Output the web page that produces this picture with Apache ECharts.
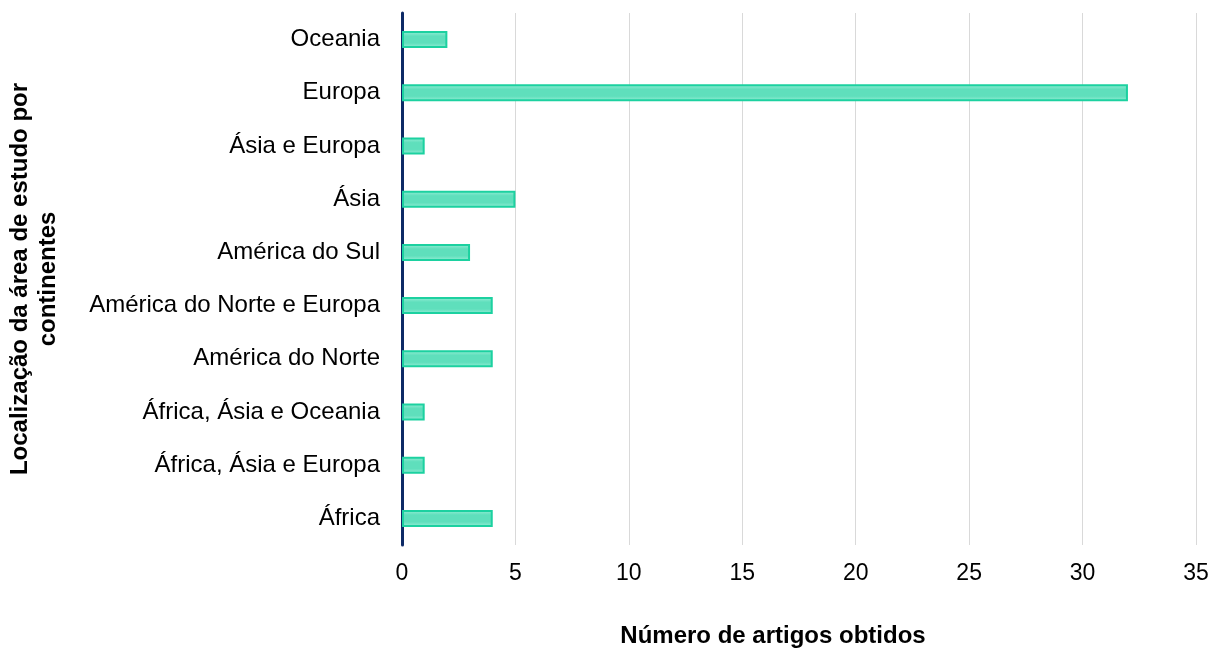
<!DOCTYPE html>
<html>
<head>
<meta charset="utf-8">
<script src="https://cdn.jsdelivr.net/npm/echarts@6/dist/echarts.min.js"></script>
<style>
  html, body { margin: 0; padding: 0; background: #ffffff; }
  #chart { width: 1212px; height: 648px; }
</style>
</head>
<body>
<div id="chart"></div>
<script>
// Continents, listed bottom to top on the category axis
const continents = [
  'África',
  'África, Ásia e Europa',
  'África, Ásia e Oceania',
  'América do Norte',
  'América do Norte e Europa',
  'América do Sul',
  'Ásia',
  'Ásia e Europa',
  'Europa',
  'Oceania'
];
// Number of articles per continent
const articleCounts = [4, 1, 1, 4, 4, 3, 5, 1, 32, 2];
const xTicks = [0, 5, 10, 15, 20, 25, 30, 35];

const font = "'Liberation Sans', Arial, sans-serif";
const chart = echarts.init(document.getElementById('chart'));

chart.setOption({
  animation: false,
  backgroundColor: '#ffffff',
  grid: {
    left: 402, right: 16, top: 13, bottom: 103,
    containLabel: false,
    outerBoundsMode: 'none'
  },
  xAxis: {
    type: 'value',
    min: xTicks[0],
    max: xTicks[xTicks.length - 1],
    interval: 5,
    name: 'Número de artigos obtidos',
    nameLocation: 'middle',
    nameGap: 79,
    nameTextStyle: {
      fontFamily: font, fontSize: 24, fontWeight: 'bold', color: '#000',
      padding: [0, 52, 0, 0]
    },
    axisLine: { show: false },
    axisTick: { show: false },
    axisLabel: { fontFamily: font, fontSize: 23, color: '#000', margin: 17 },
    splitLine: { show: true, lineStyle: { color: '#d9d9d9', width: 1 } }
  },
  yAxis: {
    type: 'category',
    data: continents,
    name: 'Localização da área de estudo por\ncontinentes',
    nameLocation: 'middle',
    nameRotate: 90,
    nameGap: 340,
    nameTextStyle: { fontFamily: font, fontSize: 24, fontWeight: 'bold', color: '#000', lineHeight: 28 },
    axisLine: { show: true, lineStyle: { color: '#0d2a66', width: 3 } },
    axisTick: { show: false },
    axisLabel: { fontFamily: font, fontSize: 24, color: '#000', margin: 22 },
    splitLine: { show: false }
  },
  series: [{
    type: 'bar',
    data: articleCounts,
    barWidth: 17,
    itemStyle: {
      color: new echarts.graphic.LinearGradient(0, 0, 0, 1, [
        { offset: 0, color: '#9aeed8' },
        { offset: 0.3, color: '#5fdfbc' },
        { offset: 0.7, color: '#5fdfbc' },
        { offset: 1, color: '#9aeed8' }
      ]),
      borderColor: '#1cd1a0',
      borderWidth: 2
    }
  }]
});
</script>
</body>
</html>
